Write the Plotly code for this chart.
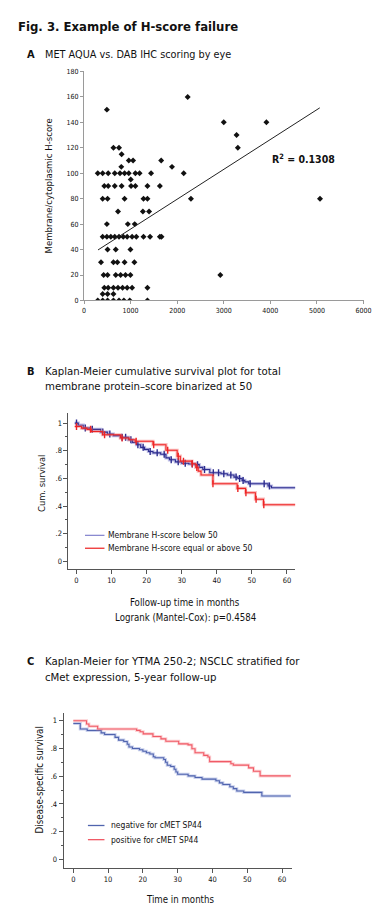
import numpy as np
import plotly.graph_objects as go

# ---------------- DATA ----------------
# Panel A: MET AQUA score (x) vs membrane/cytoplasmic H-score (y)
aqua_x = [295, 400, 505, 632, 751, 856, 982, 1361,
          400, 505, 632,
          435, 519, 632, 730, 828, 926, 1032, 1361,
          421, 505, 681, 786, 891, 996, 2926,
          365, 632, 716, 870, 1081,
          505, 681, 996,
          400, 491, 575, 660, 751, 842, 926, 1032, 1123, 1277, 1418, 1628, 1663,
          491, 940, 1088,
          730, 1263, 1396,
          400, 505, 870, 1277, 1361, 2295, 5065,
          435, 519, 660, 807, 1010, 1102, 1361, 1628,
          1003,
          295, 400, 519, 660, 772, 870, 961, 1102, 1193, 1439, 2140,
          800, 1888,
          961, 1053, 1656,
          807,
          632, 751, 3302,
          3275,
          3000, 3915,
          491,
          2225]
hscore_y = [0] * 8 + [5] * 3 + [10] * 8 + [20] * 7 + [30] * 5 + [40] * 3 + [50] * 13 + \
           [60] * 3 + [70] * 3 + [80] * 7 + [90] * 8 + [95] + [100] * 11 + [105] * 2 + \
           [110] * 3 + [115] + [120] * 3 + [130] + [140] * 2 + [150] + [160]
fit_x = [300, 5060]
fit_y = [39.7, 151.4]
r_squared = "0.1308"

# Panel B: Kaplan-Meier, membrane H-score binarized at 50
b_low_t = [-0.5, 0.5, 1.9, 4, 6.9, 8.8, 10.5, 12.6, 14.8, 16, 17.1, 18.3, 19.4, 20.5, 21.8, 24,
           25.5, 26.5, 28.2, 30, 32, 33.8, 35, 36, 38, 41.2, 43, 44.9, 46, 47.2, 48, 49.1,
           54.6, 55.6, 62.4]
b_low_s = [1.0, 0.985, 0.964, 0.955, 0.935, 0.921, 0.91, 0.897, 0.88, 0.86, 0.844, 0.825, 0.81,
           0.795, 0.785, 0.775, 0.749, 0.735, 0.72, 0.71, 0.705, 0.70, 0.68, 0.665, 0.641, 0.634,
           0.625, 0.61, 0.60, 0.586, 0.575, 0.562, 0.545, 0.533, 0.533]
b_low_cens = [0, 2.5, 4.5, 7.5, 9.5, 13, 14, 15.5, 17.5, 19, 21, 23, 25, 27, 29, 31, 33, 34.5,
              36.5, 39, 40.5, 42, 44, 45.5, 46.5, 47.5, 49.5, 53.5, 55]
b_high_t = [-0.5, 1.4, 3, 4.2, 7.4, 12.5, 15, 16.7, 21.8, 25.5, 28.7, 29.6, 32.9, 34, 34.7, 35.5,
            38.9, 45.8, 48.2, 51, 53.3, 62.4]
b_high_s = [0.976, 0.964, 0.955, 0.94, 0.916, 0.892, 0.88, 0.869, 0.844, 0.804, 0.761, 0.725,
            0.706, 0.68, 0.653, 0.625, 0.562, 0.528, 0.497, 0.45, 0.41, 0.41]
b_high_cens = [0, 4, 8, 13, 17, 22, 26, 29, 30.5, 33, 34.3, 38.9, 46, 48.3, 51.2, 53.4]
b_names = ["Membrane H-score below 50", "Membrane H-score equal or above 50"]
b_pvalue = "Logrank (Mantel-Cox): p=0.4584"

# Panel C: Kaplan-Meier, YTMA 250-2 NSCLC by cMet
c_neg_t = [0, 2, 4, 8, 9, 12, 13, 14.5, 15.5, 16, 17, 19, 20, 21, 22, 23, 23.5, 26, 26.5, 27, 28,
           29, 29.5, 30, 33, 35, 37, 41, 42, 43, 45, 46, 47, 49, 54.2, 62.5]
c_neg_s = [0.98, 0.94, 0.929, 0.912, 0.90, 0.88, 0.86, 0.85, 0.83, 0.81, 0.80, 0.79, 0.78, 0.769,
           0.76, 0.74, 0.733, 0.72, 0.70, 0.679, 0.67, 0.65, 0.63, 0.614, 0.602, 0.59, 0.579,
           0.567, 0.552, 0.54, 0.524, 0.51, 0.493, 0.483, 0.457, 0.457]
c_pos_t = [0, 3.8, 4.5, 7, 18.2, 19.2, 20.1, 22.9, 25.2, 26.6, 30.3, 33, 34.1, 35, 37.5, 38.7,
           39.2, 45.3, 46, 50.4, 51.8, 53.7, 62.5]
c_pos_s = [1.0, 0.976, 0.96, 0.94, 0.93, 0.92, 0.905, 0.886, 0.869, 0.852, 0.833, 0.826, 0.798,
           0.769, 0.75, 0.738, 0.705, 0.69, 0.68, 0.66, 0.636, 0.602, 0.602]
c_names = ["negative for cMET SP44", "positive for cMET SP44"]

surv_tickvals = [0, 0.2, 0.4, 0.6, 0.8, 1.0]
surv_ticktext = ["0", ".2", ".4", ".6", ".8", "1"]
month_ticks = [0, 10, 20, 30, 40, 50, 60]
aqua_ticks = [0, 1000, 2000, 3000, 4000, 5000, 6000]
hscore_ticks = [0, 20, 40, 60, 80, 100, 120, 140, 160, 180]

# ---------------- STYLE ----------------
W, H = 384, 911
FONT = "Liberation Sans Narrow, DejaVu Sans Condensed, Arial Narrow, sans-serif"


def px(x):
    return x / W


def py(y):
    return 1 - y / H


def step_value(times, surv, t):
    idx = np.searchsorted(np.array(times), np.array(t), side="right") - 1
    idx = np.clip(idx, 0, len(surv) - 1)
    return list(np.array(surv)[idx])


fig = go.Figure()

# Panel A
fig.add_trace(go.Scatter(x=aqua_x, y=hscore_y, mode="markers", xaxis="x", yaxis="y",
                         marker=dict(symbol="diamond", size=4.6, color="#111111"),
                         showlegend=False))
fig.add_trace(go.Scatter(x=fit_x, y=fit_y, mode="lines", xaxis="x", yaxis="y",
                         line=dict(color="#222222", width=1), showlegend=False))

# Panel B
B_BLUE, B_BLUE_H = "#2c2c8e", "rgba(110,110,200,0.45)"
B_RED, B_RED_H = "#ee2424", "rgba(245,110,110,0.45)"
for t, s, c, ch, cens in [(b_low_t, b_low_s, B_BLUE, B_BLUE_H, b_low_cens),
                          (b_high_t, b_high_s, B_RED, B_RED_H, b_high_cens)]:
    fig.add_trace(go.Scatter(x=t, y=s, mode="lines", line_shape="hv", xaxis="x2", yaxis="y2",
                             line=dict(color=ch, width=3.2), showlegend=False))
    fig.add_trace(go.Scatter(x=t, y=s, mode="lines", line_shape="hv", xaxis="x2", yaxis="y2",
                             line=dict(color=c, width=1.1), showlegend=False))
    fig.add_trace(go.Scatter(x=cens, y=step_value(t, s, cens), mode="markers",
                             xaxis="x2", yaxis="y2",
                             marker=dict(symbol="line-ns", size=5, line=dict(color=c, width=1.4)),
                             showlegend=False))

# Panel C
C_BLUE, C_BLUE_H = "#5064ae", "rgba(100,120,200,0.35)"
C_RED, C_RED_H = "#f05a66", "rgba(245,120,130,0.35)"
for t, s, c, ch in [(c_neg_t, c_neg_s, C_BLUE, C_BLUE_H), (c_pos_t, c_pos_s, C_RED, C_RED_H)]:
    fig.add_trace(go.Scatter(x=t, y=s, mode="lines", line_shape="hv", xaxis="x3", yaxis="y3",
                             line=dict(color=ch, width=3), showlegend=False))
    fig.add_trace(go.Scatter(x=t, y=s, mode="lines", line_shape="hv", xaxis="x3", yaxis="y3",
                             line=dict(color=c, width=1.1), showlegend=False))

AX = dict(showgrid=False, zeroline=False, showline=True, ticks="outside", mirror=False)
TICKF = dict(size=7.5, family=FONT, color="#111111")

fig.update_layout(
    width=W, height=H, margin=dict(l=0, r=0, t=0, b=0),
    paper_bgcolor="white", plot_bgcolor="white",
    font=dict(family=FONT, color="#111111"),
    xaxis=dict(**AX, domain=[px(76), px(363)], range=[0, 6000], tickvals=aqua_ticks,
               linecolor="#9a9a9a", tickcolor="#9a9a9a", ticklen=3, anchor="y",
               tickfont=dict(size=7, family=FONT, color="#111111")),
    yaxis=dict(**AX, domain=[py(291), py(60)], range=[0, 180], tickvals=hscore_ticks,
               linecolor="#9a9a9a", tickcolor="#9a9a9a", ticklen=3, anchor="x",
               tickfont=dict(size=7, family=FONT, color="#111111")),
    xaxis2=dict(**AX, domain=[px(60), px(293)], range=[-2.3, 62.4], tickvals=month_ticks,
                linecolor="#555555", tickcolor="#555555", ticklen=4, anchor="y2",
                tickfont=TICKF),
    yaxis2=dict(**AX, domain=[py(562.3), py(405)], range=[-0.057, 1.07],
                tickvals=surv_tickvals, ticktext=surv_ticktext,
                linecolor="#555555", tickcolor="#555555", ticklen=4, anchor="x2",
                minor=dict(tickvals=[0.1, 0.3, 0.5, 0.7, 0.9], ticks="outside", ticklen=2,
                           tickcolor="#555555"),
                tickfont=TICKF),
    xaxis3=dict(**AX, domain=[px(55), px(290)], range=[-2.8, 63], tickvals=month_ticks,
                linecolor="#555555", tickcolor="#555555", ticklen=4, anchor="y3",
                tickfont=TICKF),
    yaxis3=dict(**AX, domain=[py(863.3), py(707)], range=[-0.06, 1.057],
                tickvals=surv_tickvals, ticktext=surv_ticktext,
                linecolor="#555555", tickcolor="#555555", ticklen=4, anchor="x3",
                minor=dict(tickvals=[0.1, 0.3, 0.5, 0.7, 0.9], ticks="outside", ticklen=2,
                           tickcolor="#555555"),
                tickfont=TICKF),
)

ann = []


def text(x, y, s, size, bold=False, anchor="left", angle=0):
    ann.append(dict(x=px(x), y=py(y), xref="paper", yref="paper",
                    text=("<b>%s</b>" % s) if bold else s,
                    showarrow=False, xanchor=anchor, yanchor="middle", textangle=angle,
                    borderpad=0, font=dict(size=size, family=FONT, color="#111111")))


text(7, 15, "Fig. 3. Example of H-score failure", 13, bold=True)
text(16, 43, "A", 11, bold=True)
text(35, 43, "MET AQUA vs. DAB IHC scoring by eye", 10.8)
text(40, 175, "Membrane/cytoplasmic H-score", 9.5, anchor="center", angle=-90)
ann.append(dict(x=4010, y=111.5, xref="x", yref="y", text="<b>R<sup>2</sup> = %s</b>" % r_squared,
                showarrow=False, xanchor="left", yanchor="middle", borderpad=0,
                font=dict(size=10.5, family=FONT, color="#111111")))

text(16, 363, "B", 11, bold=True)
text(35, 363, "Kaplan-Meier cumulative survival plot for total", 11.3)
text(35, 377.5, "membrane protein\u2013score binarized at 50", 11.3)
text(33, 476, "Cum. survival", 9.3, anchor="center", angle=-90)
text(180, 596, "Follow-up time in months", 9.6, anchor="center")
text(180, 611, b_pvalue, 9.6, anchor="center")

text(16, 655, "C", 11, bold=True)
text(35, 655, "Kaplan-Meier for YTMA 250-2; NSCLC stratified for", 11.3)
text(35, 671.5, "cMet expression, 5-year follow-up", 11.3)
text(30, 775, "Disease-specific survival", 9.7, anchor="center", angle=-90)
text(175, 895, "Time in months", 9.6, anchor="center")

# legends (manual, to match the compact original layout)
shapes = []
for (y, name, col) in [(528, b_names[0], "#8a8ad0"), (541, b_names[1], "#ee3030")]:
    shapes.append(dict(type="line", xref="paper", yref="paper", x0=px(77), x1=px(97),
                       y0=py(y), y1=py(y), line=dict(color=col, width=1.3)))
    text(99.5, y, name, 8.5)
for (y, name, col) in [(820.7, c_names[0], C_BLUE), (835, c_names[1], C_RED)]:
    shapes.append(dict(type="line", xref="paper", yref="paper", x0=px(80), x1=px(97),
                       y0=py(y), y1=py(y), line=dict(color=col, width=1.3)))
    text(103, y, name, 8.5)

fig.update_layout(annotations=ann, shapes=shapes)
fig.write_html("out.html")
